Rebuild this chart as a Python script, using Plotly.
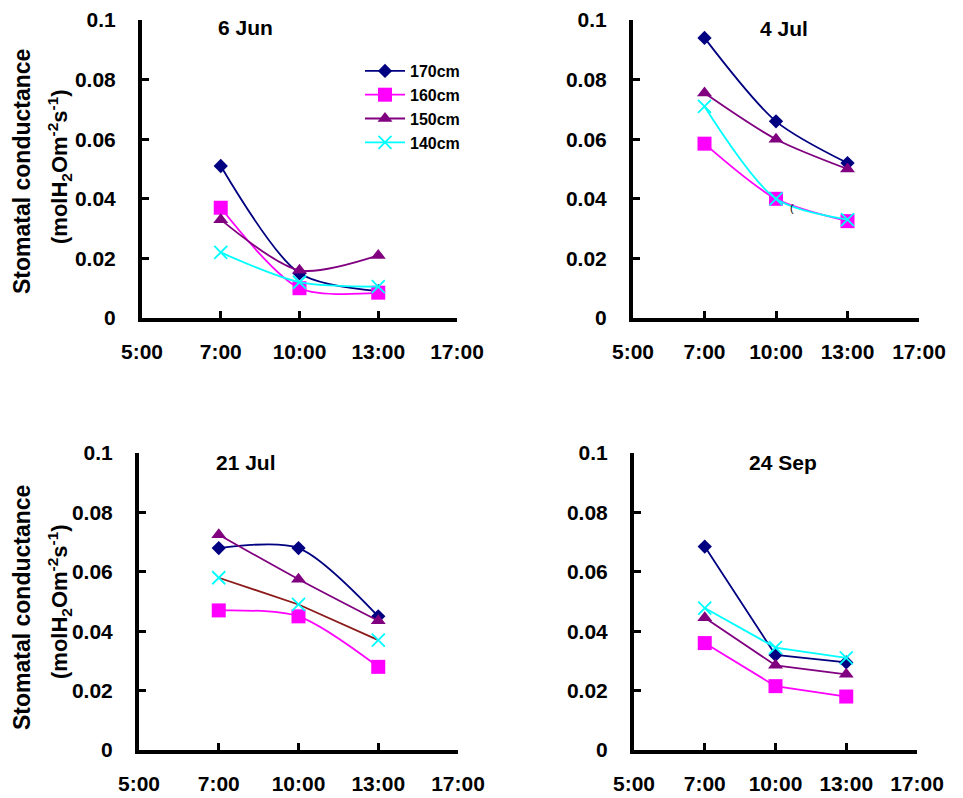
import plotly.graph_objects as go

# ---------------- data ----------------
time_labels = ["5:00", "7:00", "10:00", "13:00", "17:00"]
sample_times = ["7:00", "10:00", "13:00"]
heights = ["170cm", "160cm", "150cm", "140cm"]
panel_titles = ["6 Jun", "4 Jul", "21 Jul", "24 Sep"]
y_ticks = [0, 0.02, 0.04, 0.06, 0.08, 0.1]
y_ticktext = ["0", "0.02", "0.04", "0.06", "0.08", "0.1"]

jun6_170 = [0.051, 0.015, 0.009]
jun6_160 = [0.037, 0.010, 0.0085]
jun6_150 = [0.033, 0.016, 0.021]
jun6_140 = [0.022, 0.012, 0.0105]

jul4_170 = [0.094, 0.066, 0.052]
jul4_160 = [0.0585, 0.040, 0.0325]
jul4_150 = [0.0755, 0.060, 0.050]
jul4_140 = [0.071, 0.040, 0.033]

jul21_170 = [0.068, 0.068, 0.045]
jul21_160 = [0.047, 0.045, 0.028]
jul21_150 = [0.0725, 0.0575, 0.0435]
jul21_140 = [0.058, 0.049, 0.037]

sep24_170 = [0.0685, 0.032, 0.0295]
sep24_160 = [0.036, 0.0215, 0.018]
sep24_150 = [0.0445, 0.0285, 0.0255]
sep24_140 = [0.0478, 0.0345, 0.031]

panels = [
    [jun6_170, jun6_160, jun6_150, jun6_140],
    [jul4_170, jul4_160, jul4_150, jul4_140],
    [jul21_170, jul21_160, jul21_150, jul21_140],
    [sep24_170, sep24_160, sep24_150, sep24_140],
]

# ---------------- styles ----------------
W, H = 963, 798
FONT = "Liberation Sans, Arial, sans-serif"
colors = ["#000080", "#FF00FF", "#800080", "#00FFFF"]
symbols = ["diamond", "square", "triangle-up", "x-thin"]
sizes = [11, 14, 13, 13]
line_shapes = ["spline", "spline", "spline", "linear"]

# panel boxes in pixels: (x_left, x_right, y_top, y_bottom)
boxes = [(142, 457, 20, 318), (633, 919, 20, 318),
         (139, 458, 453, 750), (634, 917, 453, 750)]
title_pos = [(245, 27), (784, 28), (246, 462), (783, 462)]

fig = go.Figure()
xidx = [time_labels.index(t) for t in sample_times]

for p, series in enumerate(panels):
    xa = "x" if p == 0 else f"x{p+1}"
    ya = "y" if p == 0 else f"y{p+1}"
    for s, vals in enumerate(series):
        lc = colors[s]
        shape = line_shapes[p]
        if p == 2 and s == 3:
            lc = "#8B1A1A"
            shape = "linear"
        sym = symbols[s]
        marker = dict(symbol=sym, size=sizes[s], color=colors[s])
        if sym == "x-thin":
            marker["line"] = dict(color=colors[s], width=1.8)
        fig.add_trace(go.Scatter(
            x=xidx, y=vals, mode="lines+markers", name=heights[s],
            xaxis=xa, yaxis=ya, showlegend=(p == 0),
            line=dict(color=lc, width=1.8, shape=shape, smoothing=0.8),
            marker=marker, legendrank=s,
        ))

axis_common = dict(showline=True, linewidth=4, linecolor="black",
                   ticks="inside", ticklen=7, tickwidth=3, tickcolor="black",
                   showgrid=False, zeroline=False, automargin=False,
                   tickfont=dict(family=FONT, size=21, color="black", weight="bold"))

layout = dict(width=W, height=H, margin=dict(l=0, r=0, t=0, b=0, pad=0),
              autosize=False,
              plot_bgcolor="white", paper_bgcolor="white",
              font=dict(family=FONT, color="black"))

for p, (xl, xr, yt, yb) in enumerate(boxes):
    xk = "xaxis" if p == 0 else f"xaxis{p+1}"
    yk = "yaxis" if p == 0 else f"yaxis{p+1}"
    ya = "y" if p == 0 else f"y{p+1}"
    xa = "x" if p == 0 else f"x{p+1}"
    layout[xk] = dict(axis_common, domain=[xl / W, xr / W], anchor=ya,
                      range=[0, len(time_labels) - 1],
                      tickvals=list(range(len(time_labels))),
                      ticktext=time_labels, ticklabelstandoff=12)
    layout[yk] = dict(axis_common, domain=[1 - yb / H, 1 - yt / H], anchor=xa,
                      range=[0, 0.1], tickvals=y_ticks, ticktext=y_ticktext,
                      ticklabelstandoff=18)

fig.update_layout(**layout)

annotations = []
for p, (tx, ty) in enumerate(title_pos):
    annotations.append(dict(text=panel_titles[p], x=tx / W, y=1 - ty / H,
                            xref="paper", yref="paper", showarrow=False,
                            xanchor="center", yanchor="middle",
                            font=dict(family=FONT, size=21, color="black", weight="bold")))

# y-axis titles (two lines each) for the left panels
for cy1, cy2 in [(172, 167), (608, 602)]:
    annotations.append(dict(text="Stomatal conductance", x=22 / W, y=1 - cy1 / H,
                            xref="paper", yref="paper", showarrow=False, textangle=-90,
                            xanchor="center", yanchor="middle",
                            font=dict(family=FONT, size=23, color="black", weight="bold")))
    annotations.append(dict(text="(molH<sub>2</sub>Om<sup>-2</sup>s<sup>-1</sup>)",
                            x=59 / W, y=1 - cy2 / H,
                            xref="paper", yref="paper", showarrow=False, textangle=-90,
                            xanchor="center", yanchor="middle",
                            font=dict(family=FONT, size=22, color="black", weight="bold")))

# small stray glyph seen in the 4 Jul panel
annotations.append(dict(text="(", x=796 / W, y=1 - 200 / H, xref="paper", yref="paper",
                        showarrow=False, font=dict(family=FONT, size=11, color="black")))

fig.update_layout(annotations=annotations,
                  legend=dict(x=360 / W, y=1 - 54 / H, xanchor="left", yanchor="top",
                              bgcolor="rgba(0,0,0,0)", tracegroupgap=0,
                              font=dict(family=FONT, size=16, color="black", weight="bold"),
                              itemwidth=40))

fig.write_html("out.html", config={"displayModeBar": False},
               post_script="document.body.style.margin='0px';document.body.style.overflow='hidden';")
